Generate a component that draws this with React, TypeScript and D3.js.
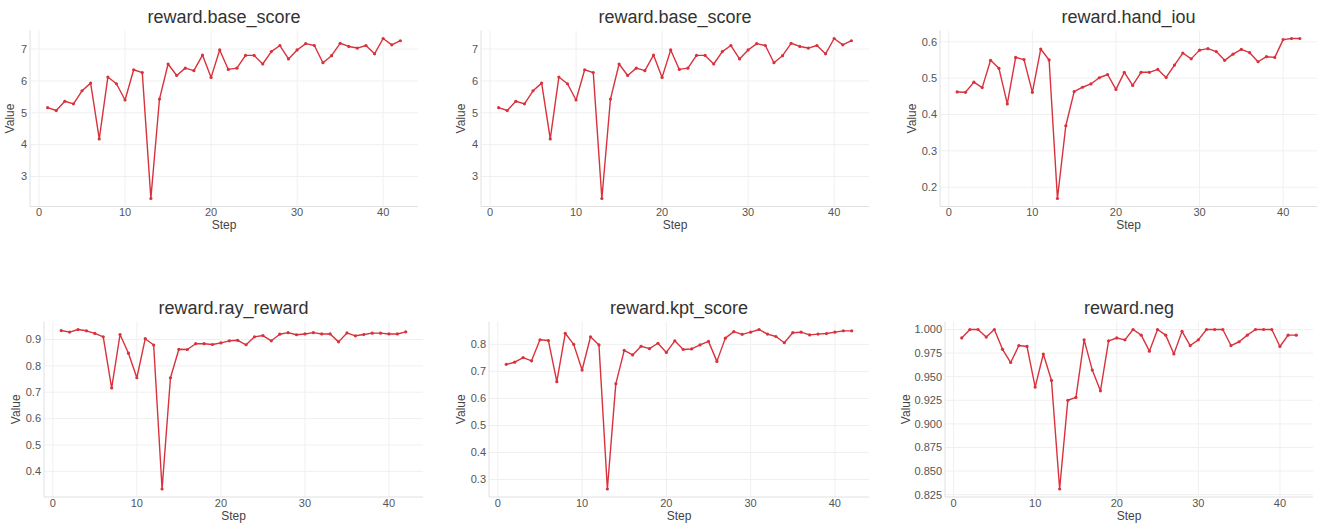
import React, { useEffect, useRef } from 'react';
import * as d3 from 'd3';

const WIDTH = 1317;
const HEIGHT = 523;

// x categories (training step)
const steps = [
  1, 2, 3, 4, 5, 6, 7, 8, 9, 10, 11, 12, 13, 14, 15, 16, 17, 18, 19, 20, 21,
  22, 23, 24, 25, 26, 27, 28, 29, 30, 31, 32, 33, 34, 35, 36, 37, 38, 39, 40, 41, 42,
];
const xTicks = [0, 10, 20, 30, 40];

// series values
const baseScore = [
  5.16, 5.07, 5.36, 5.28, 5.69, 5.93, 4.18, 6.12, 5.91, 5.4, 6.35, 6.26, 2.31, 5.43,
  6.53, 6.17, 6.4, 6.32, 6.81, 6.11, 6.97, 6.36, 6.4, 6.8, 6.8, 6.53, 6.92, 7.11,
  6.69, 6.97, 7.17, 7.11, 6.57, 6.79, 7.18, 7.08, 7.03, 7.11, 6.85, 7.33, 7.13, 7.26,
];
const handIou = [
  0.462, 0.461, 0.489, 0.474, 0.549, 0.527, 0.429, 0.557, 0.551, 0.461, 0.58, 0.55,
  0.169, 0.369, 0.463, 0.475, 0.484, 0.501, 0.51, 0.469, 0.516, 0.48, 0.516, 0.516,
  0.524, 0.502, 0.536, 0.569, 0.553, 0.577, 0.581, 0.573, 0.549, 0.566, 0.579, 0.57,
  0.545, 0.559, 0.557, 0.606, 0.609, 0.609,
];
const rayReward = [
  0.934, 0.928, 0.938, 0.933, 0.923, 0.91, 0.716, 0.919, 0.848, 0.755, 0.903, 0.879,
  0.333, 0.755, 0.863, 0.862, 0.884, 0.884, 0.881, 0.887, 0.895, 0.897, 0.88, 0.91,
  0.915, 0.895, 0.92, 0.926, 0.918, 0.921, 0.926, 0.921, 0.921, 0.891, 0.925, 0.914,
  0.919, 0.924, 0.924, 0.921, 0.921, 0.929,
];
const kptScore = [
  0.726, 0.734, 0.751, 0.739, 0.817, 0.814, 0.662, 0.841, 0.8, 0.705, 0.828, 0.798,
  0.265, 0.654, 0.778, 0.761, 0.793, 0.784, 0.804, 0.77, 0.813, 0.781, 0.783, 0.798,
  0.811, 0.737, 0.823, 0.847, 0.837, 0.845, 0.855, 0.838, 0.829, 0.806, 0.843, 0.845,
  0.835, 0.838, 0.84, 0.845, 0.85, 0.85,
];
const negReward = [
  0.991, 1.0, 1.0, 0.992, 1.0, 0.979, 0.965, 0.983, 0.982, 0.939, 0.974, 0.946, 0.831,
  0.925, 0.928, 0.989, 0.957, 0.935, 0.988, 0.991, 0.989, 1.0, 0.994, 0.977, 1.0,
  0.994, 0.974, 0.998, 0.983, 0.989, 1.0, 1.0, 1.0, 0.983, 0.987, 0.994, 1.0, 1.0,
  1.0, 0.982, 0.994, 0.994,
];

const titles = [
  'reward.base_score',
  'reward.base_score',
  'reward.hand_iou',
  'reward.ray_reward',
  'reward.kpt_score',
  'reward.neg',
];
const seriesList = [baseScore, baseScore, handIou, rayReward, kptScore, negReward];

const yTicksBase = [3, 4, 5, 6, 7];
const yTicksIou = [0.2, 0.3, 0.4, 0.5, 0.6];
const yTicksRay = [0.4, 0.5, 0.6, 0.7, 0.8, 0.9];
const yTicksKpt = [0.3, 0.4, 0.5, 0.6, 0.7, 0.8];
const yTicksNeg = [0.825, 0.85, 0.875, 0.9, 0.925, 0.95, 0.975, 1.0];
const yTickList = [yTicksBase, yTicksBase, yTicksIou, yTicksRay, yTicksKpt, yTicksNeg];
const yFormats = ['d', 'd', '.1f', '.1f', '.1f', '.3f'];

// plot rectangles [left, top, right, bottom] and y-label offset
const rects: [number, number, number, number][] = [
  [30, 30.5, 418, 206.5],
  [481, 30.5, 869, 206.5],
  [940, 30.5, 1317, 206.5],
  [44, 321.5, 423, 497],
  [489, 321.5, 869, 497],
  [945, 321.5, 1313, 497],
];
const yLabelOffsets = [16, 16, 24, 24, 24, 35];

const LINE = '#d8323c';
const FONT = '"Liberation Sans", Arial, sans-serif';

export default function App() {
  const svgRef = useRef<SVGSVGElement>(null);

  useEffect(() => {
    const svgElement = svgRef.current;
    if (!svgElement) return;
    const svg = d3.select(svgElement);
    svg.selectAll('*').remove();

    // 5% padding around the data, like the autoscaled reference
    const pad = (lo: number, hi: number) => {
      const p = (hi - lo) * 0.05;
      return [lo - p, hi + p] as [number, number];
    };

    rects.forEach(([left, top, right, bottom], i) => {
      const values = seriesList[i];
      const xScale = d3
        .scaleLinear()
        .domain(pad(d3.min(steps)!, d3.max(steps)!))
        .range([left, right]);
      const yScale = d3
        .scaleLinear()
        .domain(pad(d3.min(values)!, d3.max(values)!))
        .range([bottom, top]);

      const g = svg.append('g');

      // grid
      g.selectAll('.gx')
        .data(xTicks)
        .enter()
        .append('line')
        .attr('x1', d => xScale(d))
        .attr('x2', d => xScale(d))
        .attr('y1', top)
        .attr('y2', bottom)
        .style('stroke', '#f0f0f0')
        .style('stroke-width', 1);

      g.selectAll('.gy')
        .data(yTickList[i])
        .enter()
        .append('line')
        .attr('x1', left)
        .attr('x2', right)
        .attr('y1', d => yScale(d))
        .attr('y2', d => yScale(d))
        .style('stroke', '#f0f0f0')
        .style('stroke-width', 1);

      // axis lines
      g.append('line')
        .attr('x1', left)
        .attr('x2', right)
        .attr('y1', bottom)
        .attr('y2', bottom)
        .style('stroke', '#e0e0e0')
        .style('stroke-width', 1);
      g.append('line')
        .attr('x1', left)
        .attr('x2', left)
        .attr('y1', top)
        .attr('y2', bottom)
        .style('stroke', '#e0e0e0')
        .style('stroke-width', 1);

      // tick labels
      const fmt = d3.format(yFormats[i]);
      g.selectAll('.ty')
        .data(yTickList[i])
        .enter()
        .append('text')
        .attr('x', left - 3)
        .attr('y', d => yScale(d))
        .attr('dy', '0.35em')
        .attr('text-anchor', 'end')
        .style('font-family', FONT)
        .style('font-size', '11px')
        .style('fill', '#555')
        .text(d => fmt(d));

      g.selectAll('.tx')
        .data(xTicks)
        .enter()
        .append('text')
        .attr('x', d => xScale(d))
        .attr('y', bottom + 9.5)
        .attr('text-anchor', 'middle')
        .style('font-family', FONT)
        .style('font-size', '11px')
        .style('fill', '#555')
        .text(d => String(d));

      // titles
      const cx = (left + right) / 2;
      g.append('text')
        .attr('x', cx)
        .attr('y', top - 7.5)
        .attr('text-anchor', 'middle')
        .style('font-family', FONT)
        .style('font-size', '18px')
        .style('fill', '#333')
        .text(titles[i]);

      g.append('text')
        .attr('x', cx)
        .attr('y', bottom + 22.5)
        .attr('text-anchor', 'middle')
        .style('font-family', FONT)
        .style('font-size', '12px')
        .style('fill', '#444')
        .text('Step');

      g.append('text')
        .attr('transform', `translate(${left - yLabelOffsets[i]}, ${(top + bottom) / 2}) rotate(-90)`)
        .attr('text-anchor', 'middle')
        .style('font-family', FONT)
        .style('font-size', '12px')
        .style('fill', '#444')
        .text('Value');

      // series line + markers
      const line = d3
        .line<number>()
        .x((_, j) => xScale(steps[j]))
        .y(d => yScale(d));

      g.append('path')
        .datum(values)
        .attr('fill', 'none')
        .attr('stroke', LINE)
        .attr('stroke-width', 1.4)
        .attr('stroke-linejoin', 'round')
        .attr('d', line);

      g.selectAll('.dot')
        .data(values)
        .enter()
        .append('circle')
        .attr('cx', (_, j) => xScale(steps[j]))
        .attr('cy', d => yScale(d))
        .attr('r', 1.6)
        .attr('fill', LINE);
    });
  }, []);

  return (
    <svg
      ref={svgRef}
      width={WIDTH}
      height={HEIGHT}
      style={{ position: 'absolute', left: 0, top: 0, background: '#fff' }}
    />
  );
}
